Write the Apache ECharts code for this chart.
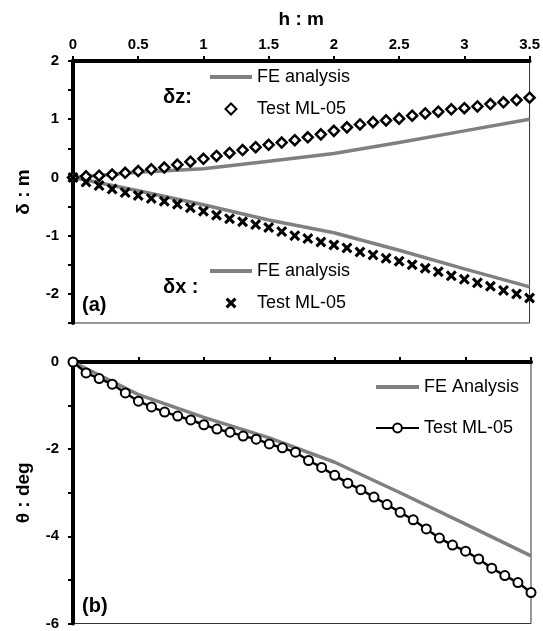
<!DOCTYPE html>
<html>
<head>
<meta charset="utf-8">
<script src="https://cdn.jsdelivr.net/npm/echarts@6/dist/echarts.min.js"></script>
<style>html,body{margin:0;padding:0;background:#fff}#c{width:543px;height:631px}</style>
</head>
<body>
<div id="c"></div>
<script>
// h : m positions of the test readings
var hTest = [0,0.1,0.2,0.3,0.4,0.5,0.6,0.7,0.8,0.9,1.0,1.1,1.2,1.3,1.4,1.5,1.6,1.7,1.8,1.9,2.0,2.1,2.2,2.3,2.4,2.5,2.6,2.7,2.8,2.9,3.0,3.1,3.2,3.3,3.4,3.5];
var dzTest = [0,0.02,0.03,0.05,0.08,0.11,0.14,0.17,0.22,0.27,0.32,0.37,0.42,0.47,0.52,0.56,0.6,0.64,0.69,0.74,0.8,0.86,0.91,0.95,0.98,1.01,1.06,1.1,1.13,1.17,1.19,1.22,1.26,1.29,1.33,1.37];
var dxTest = [0,-0.08,-0.14,-0.2,-0.26,-0.31,-0.36,-0.41,-0.46,-0.52,-0.58,-0.65,-0.71,-0.76,-0.81,-0.86,-0.93,-1.0,-1.05,-1.11,-1.16,-1.21,-1.28,-1.33,-1.39,-1.44,-1.5,-1.56,-1.62,-1.69,-1.75,-1.81,-1.87,-1.94,-2.0,-2.07];
var thetaTest = [0,-0.25,-0.38,-0.51,-0.71,-0.9,-1.03,-1.15,-1.24,-1.33,-1.44,-1.54,-1.61,-1.7,-1.77,-1.88,-1.97,-2.07,-2.26,-2.42,-2.6,-2.78,-2.93,-3.1,-3.27,-3.45,-3.62,-3.83,-4.04,-4.2,-4.34,-4.52,-4.73,-4.9,-5.06,-5.29];
// FE analysis
var hFE = [0,0.5,1,1.5,2,2.5,3,3.5];
var dzFE = [0,0.09,0.15,0.28,0.41,0.6,0.8,1.0];
var dxFE = [0,-0.23,-0.47,-0.73,-0.95,-1.25,-1.57,-1.88];
var thetaFE = [0,-0.75,-1.27,-1.74,-2.3,-3.0,-3.72,-4.45];
// axis tick labels
var xTicks = [0,0.5,1,1.5,2,2.5,3,3.5];
var yTopLabels = [2,1,0,-1,-2];
var yBotLabels = [0,-2,-4,-6];

function zip(a,b){ return a.map(function(v,i){ return [v,b[i]]; }); }
var FONT = "'Liberation Sans', Arial, sans-serif";
var crossPath = 'path://M0,2 L2,0 L5,3 L8,0 L10,2 L7,5 L10,8 L8,10 L5,7 L2,10 L0,8 L3,5 Z';
var diamondPath = 'path://M5,0 L10,5 L5,10 L0,5 Z';
var barIcon = 'path://M0,0 L42,0 L42,4 L0,4 Z';

function xAxisCfg(grid, withLabels){
  return {
    gridIndex: grid, type: 'value', position: 'top', min: 0, max: 3.5, interval: 0.5,
    name: withLabels ? 'h : m' : '', nameLocation: 'middle', nameGap: 32,
    nameTextStyle: {fontFamily: FONT, fontWeight: 'bold', fontSize: 19, color: '#000'},
    axisLine: {show: true, onZero: false, lineStyle: {color: '#000', width: 4}},
    axisTick: {show: true, length: 5, lineStyle: {color: '#000', width: 2}},
    axisLabel: {show: withLabels, fontFamily: FONT, fontWeight: 'bold', fontSize: 15, color: '#000', margin: 9,
      formatter: function(v){ return xTicks.indexOf(v) >= 0 ? String(v) : ''; }},
    splitLine: {show: false}
  };
}
function yAxisCfg(grid, min, max, interval, labels, name){
  return {
    gridIndex: grid, type: 'value', min: min, max: max, interval: interval,
    name: name, nameLocation: 'middle', nameGap: 40, nameRotate: 90,
    nameTextStyle: {fontFamily: FONT, fontWeight: 'bold', fontSize: 19, color: '#000'},
    axisLine: {show: true, onZero: false, lineStyle: {color: '#000', width: 4}},
    axisTick: {show: true, length: 5, lineStyle: {color: '#000', width: 2}},
    axisLabel: {fontFamily: FONT, fontWeight: 'bold', fontSize: 15, color: '#000', margin: 14,
      formatter: function(v){ return labels.indexOf(v) >= 0 ? String(v) : ''; }},
    splitLine: {show: false}
  };
}
var legendText = {fontFamily: FONT, fontSize: 18, color: '#000', lineHeight: 18};
function legendFmt(name){
  if (name.indexOf('θ FE') === 0) return 'FE Analysis';
  return name.indexOf('FE') >= 0 ? 'FE analysis' : 'Test ML-05';
}

var chart = echarts.init(document.getElementById('c'), null, {renderer: 'canvas'});
chart.setOption({
  animation: false,
  backgroundColor: '#fff',
  grid: [
    {left: 73, top: 61, width: 458, height: 262, show: true, borderColor: '#333', borderWidth: 1},
    {left: 73, top: 362, width: 458, height: 263, show: true, borderColor: '#333', borderWidth: 1}
  ],
  xAxis: [xAxisCfg(0, true), xAxisCfg(1, false)],
  yAxis: [yAxisCfg(0, -2.5, 2, 0.5, yTopLabels, 'δ : m'), yAxisCfg(1, -6, 0, 1, yBotLabels, 'θ : deg')],
  legend: [
    {orient: 'vertical', left: 210, top: 68, itemWidth: 42, itemHeight: 11, itemGap: 14, padding: 0,
     data: [{name: 'δz FE', icon: barIcon}, {name: 'δz Test', icon: diamondPath}], formatter: legendFmt, textStyle: legendText},
    {orient: 'vertical', left: 210, top: 262, itemWidth: 42, itemHeight: 11, itemGap: 14, padding: 0,
     data: [{name: 'δx FE', icon: barIcon}, {name: 'δx Test', icon: crossPath}], formatter: legendFmt, textStyle: legendText},
    {orient: 'vertical', left: 375, top: 378, itemWidth: 43, itemHeight: 11, itemGap: 23, padding: 0,
     data: [{name: 'θ FE', icon: barIcon}, 'θ Test'], formatter: legendFmt, textStyle: legendText}
  ],
  graphic: [
    {type: 'text', x: 163, y: 97, style: {text: 'δz:', font: 'bold 20px ' + FONT, fill: '#000', verticalAlign: 'middle'}},
    {type: 'text', x: 163, y: 287, style: {text: 'δx :', font: 'bold 20px ' + FONT, fill: '#000', verticalAlign: 'middle'}},
    {type: 'text', x: 82, y: 305, style: {text: '(a)', font: 'bold 20px ' + FONT, fill: '#000', verticalAlign: 'middle'}},
    {type: 'text', x: 82, y: 606, style: {text: '(b)', font: 'bold 20px ' + FONT, fill: '#000', verticalAlign: 'middle'}}
  ],
  series: [
    {name: 'δz FE', type: 'line', xAxisIndex: 0, yAxisIndex: 0, data: zip(hFE, dzFE), symbol: 'none',
     lineStyle: {color: '#808080', width: 3.5}, itemStyle: {color: '#808080'}, z: 2},
    {name: 'δz Test', type: 'scatter', xAxisIndex: 0, yAxisIndex: 0, data: zip(hTest, dzTest), symbol: diamondPath,
     symbolSize: 10, clip: false, itemStyle: {color: '#fff', borderColor: '#000', borderWidth: 2.5, opacity: 1}, z: 3},
    {name: 'δx FE', type: 'line', xAxisIndex: 0, yAxisIndex: 0, data: zip(hFE, dxFE), symbol: 'none',
     lineStyle: {color: '#808080', width: 3.5}, itemStyle: {color: '#808080'}, z: 2},
    {name: 'δx Test', type: 'scatter', xAxisIndex: 0, yAxisIndex: 0, data: zip(hTest, dxTest), symbol: crossPath,
     symbolSize: 11, clip: false, itemStyle: {color: '#000', opacity: 1}, z: 3},
    {name: 'θ FE', type: 'line', xAxisIndex: 1, yAxisIndex: 1, data: zip(hFE, thetaFE), symbol: 'none',
     lineStyle: {color: '#808080', width: 3.5}, itemStyle: {color: '#808080'}, z: 2},
    {name: 'θ Test', type: 'line', xAxisIndex: 1, yAxisIndex: 1, data: zip(hTest, thetaTest), symbol: 'circle',
     symbolSize: 9, showAllSymbol: true, clip: false, lineStyle: {color: '#000', width: 2.5},
     itemStyle: {color: '#fff', borderColor: '#000', borderWidth: 2}, z: 3}
  ]
});
</script>
</body>
</html>
